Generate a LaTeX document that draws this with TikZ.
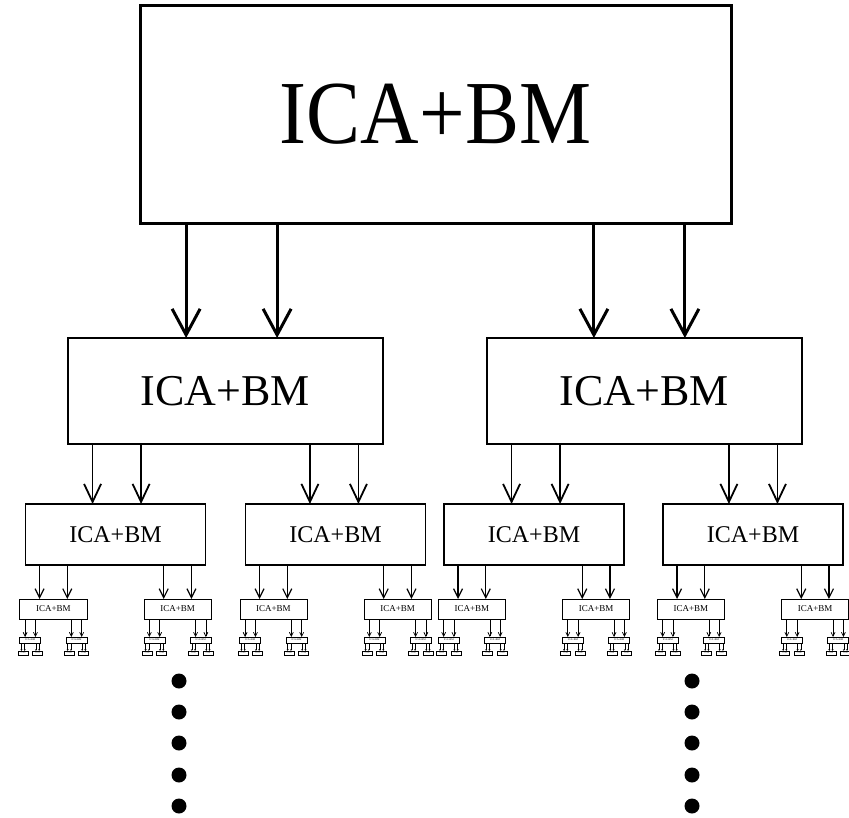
\documentclass[tikz,border=0pt]{standalone}
\usepackage{fontspec}
\setmainfont{Liberation Serif}
\usetikzlibrary{calc,arrows.meta}
\tikzset{
  icabox/.style={draw, fill=white, inner sep=0pt, outer sep=0pt, anchor=north},
  lvlA/.style={icabox, line width=3pt, minimum width=591pt, minimum height=218pt, font=\fontsize{90}{90}\selectfont},
  lvlB/.style={icabox, line width=1.5pt, minimum width=315pt, minimum height=106pt, font=\fontsize{44}{44}\selectfont},
  lvlC/.style={icabox, line width=1.1pt, minimum width=180pt, minimum height=61pt, font=\fontsize{24}{24}\selectfont},
  lvlD/.style={icabox, line width=0.8pt, minimum width=67pt, minimum height=20pt, font=\fontsize{9}{9}\selectfont},
  lvlE/.style={icabox, line width=0.7pt, minimum width=21pt, minimum height=6pt, font=\fontsize{2.6}{3}\selectfont},
  lvlF/.style={icabox, line width=0.7pt, minimum width=10pt, minimum height=4pt, font=\fontsize{1.2}{1.4}\selectfont},
  arrA/.style={line width=3pt, -{Straight Barb[length=26pt,width=28pt]}},
  arrB/.style={line width=1.8pt, -{Straight Barb[length=18pt,width=17pt]}},
  arrC/.style={line width=1.2pt, -{Straight Barb[length=9pt,width=9pt]}},
  arrD/.style={line width=0.7pt, -{Straight Barb[length=4pt,width=4pt]}},
  arrE/.style={line width=0.35pt, -{Straight Barb[length=1.5pt,width=1.5pt]}},
  bigdot/.style={circle, fill=black, inner sep=0pt, minimum size=15pt},
}
\newcommand{\arrowsto}[2]{%
  \coordinate (#1-sw) at (#1.south west);
  \coordinate (#1-se) at (#1.south east);
  \foreach \f/\k in {0.078/1,0.232/1,0.768/2,0.922/2}{
    \coordinate (#1-t) at ($(#1-sw)!\f!(#1-se)$);
    \draw[#2] (#1-t) -- (#1-t |- #1-\k.north);
  }%
}
\newcommand{\kidsof}[3]{%
  \coordinate (#1-sw) at (#1.south west);
  \coordinate (#1-se) at (#1.south east);
  \coordinate (#1-c1) at ($(#1-sw)!0.155!(#1-se)$);
  \coordinate (#1-c2) at ($(#1-sw)!0.845!(#1-se)$);
  \node[#2] (#1-1) at (#1-c1 |- 0,#3) {ICA+BM};
  \node[#2] (#1-2) at (#1-c2 |- 0,#3) {ICA+BM};
}
\begin{document}
\begin{tikzpicture}[x=1pt, y=-1pt]
  \useasboundingbox (0,0) rectangle (849,817);
  % level 1
  \node[lvlA] (b) at (435.5,5) {\scalebox{0.9}[1]{ICA+BM}};
  % level 2
  \node[lvlB] (b-1) at (225.5,338) {ICA+BM};
  \node[lvlB] (b-2) at (644.5,338) {ICA+BM};
  \arrowsto{b}{arrA}
  % level 3
  \node[lvlC] (b-1-1) at (115.5,504) {ICA+BM};
  \node[lvlC] (b-1-2) at (335.5,504) {ICA+BM};
  \node[lvlC] (b-2-1) at (534,504) {ICA+BM};
  \node[lvlC] (b-2-2) at (753,504) {ICA+BM};
  \arrowsto{b-1}{arrB}
  \arrowsto{b-2}{arrB}
  % level 4
  \foreach \p in {b-1-1,b-1-2,b-2-1,b-2-2}{
    \kidsof{\p}{lvlD}{599}
    \arrowsto{\p}{arrC}
  }
  % level 5
  \foreach \p in {b-1-1,b-1-2,b-2-1,b-2-2}{
    \foreach \q in {1,2}{
      \kidsof{\p-\q}{lvlE}{637}
      \arrowsto{\p-\q}{arrD}
    }
  }
  % level 6
  \foreach \p in {b-1-1,b-1-2,b-2-1,b-2-2}{
    \foreach \q in {1,2}{
      \foreach \r in {1,2}{
        \kidsof{\p-\q-\r}{lvlF}{651}
        \arrowsto{\p-\q-\r}{arrE}
      }
    }
  }
  % dots
  \foreach \y [count=\i] in {681,712,743,775,806}{
    \node[bigdot] (dl\i) at (179,\y) {};
    \node[bigdot] (dr\i) at (692,\y) {};
  }
\end{tikzpicture}
\end{document}
